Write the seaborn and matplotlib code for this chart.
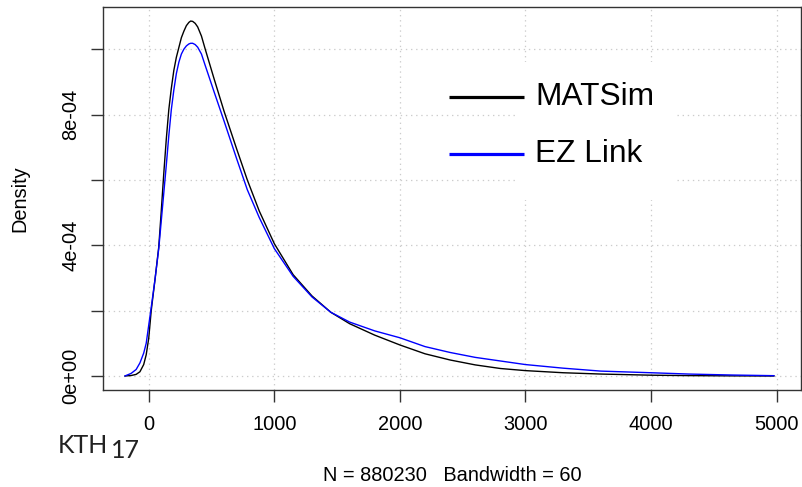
import numpy as np
import pandas as pd
import matplotlib
matplotlib.use("Agg")
import matplotlib.pyplot as plt
import seaborn as sns

# density curves (x in units, y = density)
x_vals = [-190, -140, -100, -70, -40, -20, 0, 20, 50, 80, 100, 120, 140, 160,
          180, 200, 220, 240, 260, 280, 300, 320, 334, 350, 370, 390, 420, 450,
          520, 600, 700, 785, 880, 1000, 1150, 1300, 1450, 1600, 1800, 2000,
          2200, 2400, 2600, 2800, 3000, 3300, 3600, 4000, 4300, 4650, 4980]
matsim = [0, 1.5e-6, 5e-6, 1.3e-5, 3.5e-5, 6.5e-5, 1.15e-4, 2.0e-4, 2.95e-4,
          3.95e-4, 5.05e-4, 6.2e-4, 7.25e-4, 8.15e-4, 8.8e-4, 9.35e-4,
          9.75e-4, 1.005e-3, 1.035e-3, 1.055e-3, 1.072e-3, 1.082e-3, 1.086e-3,
          1.085e-3, 1.079e-3, 1.068e-3, 1.04e-3, 1.0e-3, 9.1e-4, 8.1e-4,
          6.95e-4, 6.0e-4, 5.05e-4, 4.05e-4, 3.1e-4, 2.45e-4, 1.95e-4, 1.6e-4,
          1.25e-4, 9.5e-5, 6.8e-5, 4.9e-5, 3.4e-5, 2.3e-5, 1.65e-5, 1.0e-5,
          6e-6, 2.5e-6, 1.2e-6, 4e-7, 0]
ezlink = [0, 8e-6, 2.0e-5, 4.0e-5, 7.0e-5, 1.0e-4, 1.55e-4, 2.1e-4, 2.95e-4,
          3.9e-4, 4.75e-4, 5.6e-4, 6.45e-4, 7.35e-4, 8.15e-4, 8.75e-4,
          9.25e-4, 9.6e-4, 9.85e-4, 1.0e-3, 1.01e-3, 1.016e-3, 1.018e-3,
          1.018e-3, 1.014e-3, 1.006e-3, 9.85e-4, 9.5e-4, 8.7e-4, 7.8e-4,
          6.65e-4, 5.7e-4, 4.85e-4, 3.9e-4, 3.05e-4, 2.42e-4, 1.95e-4,
          1.65e-4, 1.38e-4, 1.17e-4, 9.0e-5, 7.2e-5, 5.7e-5, 4.6e-5, 3.5e-5,
          2.4e-5, 1.5e-5, 1.0e-5, 6e-6, 3e-6, 1e-6]
series_names = ["MATSim", "EZ Link"]
series_colors = ["black", "blue"]
x_ticks = [0, 1000, 2000, 3000, 4000, 5000]
y_ticks = [0, 2e-4, 4e-4, 6e-4, 8e-4, 1e-3]
y_labels = {0: "0e+00", 4e-4: "4e-04", 8e-4: "8e-04"}

df = pd.DataFrame({
    "x": x_vals * 2,
    "density": matsim + ezlink,
    "source": [series_names[0]] * len(x_vals) + [series_names[1]] * len(x_vals),
})

sns.set_style("white")
plt.rcParams["font.family"] = ["Liberation Sans", "DejaVu Sans"]
plt.rcParams["text.color"] = "black"
plt.rcParams["axes.labelcolor"] = "black"

W, H = 803, 487
fig = plt.figure(figsize=(W / 100, H / 100), dpi=100)
ax = fig.add_axes([103 / W, 1 - 390 / H, (801 - 103) / W, (390 - 7) / H])

def fx(px):
    return px / W

def fy(py):
    return 1 - py / H

# dotted grid (R grid())
for xt in x_ticks:
    ax.axvline(xt, color="#cccccc", lw=0.9, linestyle=(0, (1.1, 3.0)), zorder=0)
for yt in y_ticks:
    ax.axhline(yt, color="#cccccc", lw=0.9, linestyle=(0, (1.1, 3.0)), zorder=0)

sns.lineplot(data=df, x="x", y="density", hue="source", palette=series_colors,
             hue_order=series_names, lw=1.0, legend=False, ax=ax, zorder=3,
             sort=False, estimator=None)

ax.set_xlim(-364, 5194)
ax.set_ylim(-4.28e-5, 1.129e-3)
ax.set_xticks(x_ticks)
ax.set_xticklabels([str(t) for t in x_ticks])
ax.set_yticks(y_ticks)
ax.set_yticklabels([y_labels.get(t, "") for t in y_ticks], rotation=90, va="center")
ax.tick_params(axis="both", direction="out", length=8.5, width=1.0,
               color="#333333", labelsize=14.4, labelcolor="black",
               bottom=True, left=True)
ax.tick_params(axis="x", pad=9.5)
ax.tick_params(axis="y", pad=8)
for sp in ax.spines.values():
    sp.set_color("#333333")
    sp.set_linewidth(1.0)

ax.set_xlabel("N = 880230   Bandwidth = 60", fontsize=14.4, labelpad=23)
ax.set_ylabel("Density", fontsize=14.4, labelpad=23)

# legend: white block behind the text, then lines and labels
ax.add_patch(plt.Rectangle((fx(515), fy(200)), fx(677) - fx(515), fy(62) - fy(200),
                           transform=fig.transFigure, facecolor="white",
                           edgecolor="none", zorder=2))
for name, col, py in zip(series_names, series_colors, [96.7, 154]):
    ax.plot([fx(449), fx(524)], [fy(py), fy(py)], transform=fig.transFigure,
            color=col, lw=2.3, zorder=4, solid_capstyle="butt", clip_on=False)
    ax.text(fx(535), fy(py), name, transform=fig.transFigure, fontsize=22.8,
            va="center", ha="left", zorder=4)

fig.text(fx(58), fy(453), "KTH", fontsize=18, family=["Lato", "DejaVu Sans"],
         color="#222222", va="baseline", ha="left")
fig.text(fx(111), fy(458), "17", fontsize=18, family=["Lato", "DejaVu Sans"],
         color="#222222", va="baseline", ha="left")

fig.savefig("out.png", dpi=100)
